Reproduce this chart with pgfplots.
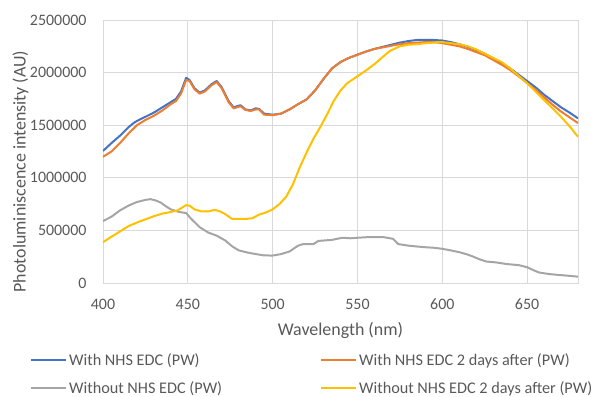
\documentclass[border=0pt]{standalone}
\usepackage{pgfplots}
\pgfplotsset{compat=1.18}
\usepackage{fontspec}
\setmainfont{Carlito}
\definecolor{cblue}{HTML}{4472C4}
\definecolor{corange}{HTML}{ED7D31}
\definecolor{cgray}{HTML}{A5A5A5}
\definecolor{cyellow}{HTML}{FFC000}
\definecolor{gridc}{HTML}{D9D9D9}
\definecolor{txt}{HTML}{595959}
\begin{document}
\begin{tikzpicture}
\path[use as bounding box] (-103bp,-114bp) rectangle (492bp,283bp);
\begin{axis}[
  at={(0,0)}, anchor=south west,
  scale only axis, width=475bp, height=263bp,
  xmin=400, xmax=680, ymin=0, ymax=2500000,
  xtick={400,450,500,550,600,650},
  xticklabels={400,450,500,550,600,650},
  ytick={0,500000,1000000,1500000,2000000,2500000},
  yticklabels={0,500000,1000000,1500000,2000000,2500000},
  scaled y ticks=false,
  major tick length=0pt,
  grid=major,
  grid style={gridc, line width=0.8pt},
  axis line style={gridc, line width=0.8pt},
  tick label style={font=\fontsize{16}{19}\selectfont, text=txt},
  xticklabel style={anchor=center, yshift=-21bp},
  yticklabel style={anchor=east, xshift=-13bp},
  xlabel={Wavelength (nm)},
  ylabel={Photoluminiscence intensity (AU)},
  label style={font=\fontsize{18}{21}\selectfont, text=txt},
  xlabel style={at={(axis description cs:0.5,-0.179)}, anchor=center},
  ylabel style={at={(axis description cs:-0.1737,0.424)}, anchor=center},
  legend columns=2,
  legend style={draw=none, fill=none, at={(-0.16,-0.252)}, anchor=north west,
    font=\fontsize{16.3}{19}\selectfont, text=txt, cells={anchor=west},
    /tikz/every even column/.append style={column sep=0bp},
    row sep=10.5bp},
  legend image code/.code={\draw[#1, line width=2pt] (0bp,0bp) -- (35bp,0bp);},
  every axis plot/.append style={line width=2pt, line join=round},
]
\addplot[cblue] coordinates {
(400,1255000)(405,1330000)(410,1400000)(415,1480000)(418,1520000)(420,1540000)(425,1580000)(430,1620000)(435,1670000)(440,1720000)(443,1750000)(446,1820000)(449,1950000)(451,1930000)(454,1850000)(457,1810000)(460,1830000)(464,1890000)(467,1920000)(470,1860000)(474,1730000)(477,1670000)(481,1690000)(484,1650000)(487,1640000)(490,1660000)(492,1655000)(495,1610000)(500,1600000)(505,1610000)(510,1650000)(515,1700000)(520,1745000)(525,1830000)(530,1940000)(535,2040000)(540,2100000)(545,2140000)(550,2170000)(555,2200000)(560,2225000)(565,2245000)(570,2265000)(575,2285000)(580,2300000)(585,2310000)(590,2310000)(595,2310000)(600,2305000)(605,2290000)(610,2270000)(615,2245000)(620,2215000)(625,2180000)(630,2135000)(635,2090000)(640,2040000)(645,1980000)(650,1920000)(655,1860000)(660,1790000)(665,1730000)(670,1670000)(675,1620000)(680,1565000)
};
\addlegendentry{\makebox[249bp][l]{With NHS EDC (PW)}}
\addplot[corange] coordinates {
(400,1200000)(405,1250000)(410,1330000)(415,1420000)(420,1500000)(425,1550000)(430,1590000)(435,1640000)(440,1700000)(443,1730000)(446,1800000)(449,1930000)(451,1920000)(454,1840000)(457,1800000)(460,1820000)(464,1880000)(467,1910000)(470,1850000)(474,1720000)(477,1660000)(481,1680000)(484,1645000)(487,1635000)(490,1650000)(492,1650000)(495,1600000)(500,1595000)(505,1610000)(510,1650000)(515,1700000)(520,1745000)(525,1830000)(530,1940000)(535,2040000)(540,2100000)(545,2140000)(550,2170000)(555,2200000)(560,2225000)(565,2240000)(570,2255000)(575,2270000)(580,2280000)(585,2285000)(590,2290000)(595,2290000)(600,2280000)(605,2265000)(610,2250000)(615,2225000)(620,2195000)(625,2165000)(630,2120000)(635,2075000)(640,2025000)(645,1965000)(650,1900000)(655,1835000)(660,1765000)(665,1695000)(670,1630000)(675,1575000)(680,1520000)
};
\addlegendentry{With NHS EDC 2 days after (PW)}
\addplot[cgray] coordinates {
(400,589000)(405,630000)(410,690000)(415,735000)(420,770000)(425,790000)(428,797000)(431,785000)(434,765000)(437,730000)(440,700000)(445,675000)(449,665000)(452,610000)(457,530000)(462,480000)(467,450000)(472,405000)(476,350000)(480,310000)(485,290000)(490,275000)(495,262000)(500,261000)(505,275000)(510,300000)(515,355000)(518,370000)(524,370000)(527,400000)(535,410000)(541,430000)(546,425000)(550,430000)(555,435000)(560,437000)(565,437000)(571,420000)(574,370000)(580,355000)(585,347000)(590,340000)(595,335000)(600,325000)(605,310000)(610,293000)(615,270000)(618,252000)(622,225000)(626,204000)(632,195000)(638,180000)(645,170000)(650,150000)(654,120000)(657,100000)(663,85000)(669,76000)(675,68000)(680,60000)
};
\addlegendentry{\makebox[249bp][l]{Without NHS EDC (PW)}}
\addplot[cyellow] coordinates {
(400,388000)(405,440000)(410,490000)(415,540000)(420,575000)(425,605000)(430,635000)(435,660000)(440,675000)(444,690000)(447,720000)(449,740000)(451,735000)(454,700000)(458,680000)(462,680000)(466,695000)(469,680000)(472,655000)(476,610000)(480,610000)(485,610000)(488,615000)(492,650000)(496,670000)(500,700000)(504,750000)(508,820000)(512,940000)(516,1100000)(520,1240000)(524,1370000)(528,1480000)(532,1600000)(536,1730000)(540,1830000)(544,1900000)(550,1965000)(555,2020000)(560,2080000)(565,2150000)(569,2205000)(575,2250000)(580,2265000)(585,2270000)(590,2280000)(595,2285000)(600,2290000)(605,2280000)(610,2270000)(615,2250000)(620,2220000)(625,2180000)(630,2140000)(635,2100000)(640,2040000)(645,1970000)(650,1900000)(655,1820000)(660,1740000)(665,1660000)(670,1580000)(675,1490000)(680,1390000)
};
\addlegendentry{Without NHS EDC 2 days after (PW)}
\end{axis}
\end{tikzpicture}
\end{document}
